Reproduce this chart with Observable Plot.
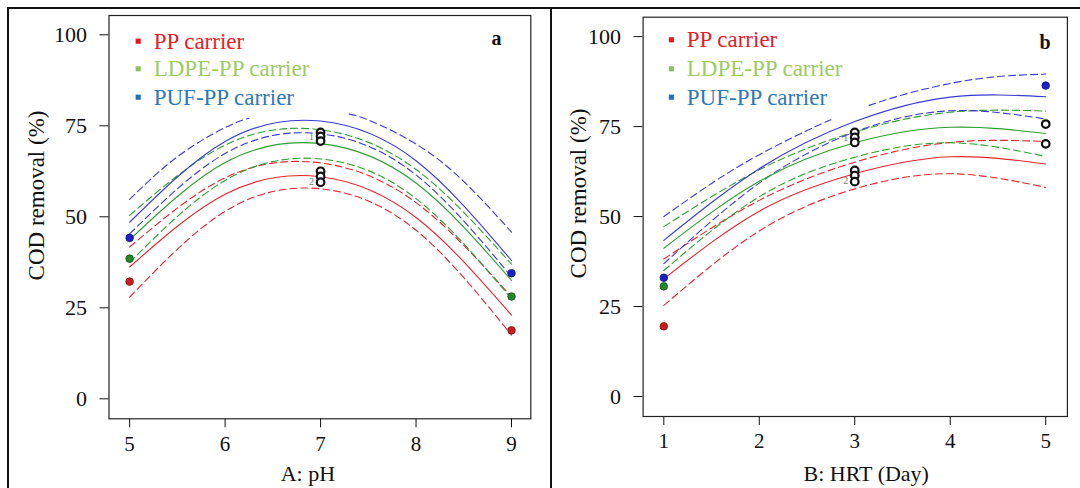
<!DOCTYPE html>
<html>
<head>
<meta charset="utf-8">
<script src="https://cdn.jsdelivr.net/npm/d3@7"></script>
<script src="https://cdn.jsdelivr.net/npm/@observablehq/plot@0.6"></script>
<style>
  html, body { margin: 0; padding: 0; background: #fff; }
  #wrap { position: relative; width: 1080px; height: 488px; overflow: hidden; background: #fff; font-family: "Liberation Serif", "Times New Roman", serif; }
  .panel { position: absolute; top: 0; }
  .rule { position: absolute; background: #111; }
  svg text { font-family: "Liberation Serif", "Times New Roman", serif; }
</style>
</head>
<body>
<div id="wrap">
  <div id="pa" class="panel" style="left:0px"></div>
  <div id="pb" class="panel" style="left:540px"></div>
  <div class="rule" style="left:7px;top:7px;width:1073px;height:2px"></div>
  <div class="rule" style="left:7px;top:7px;width:2px;height:481px"></div>
  <div class="rule" style="left:550px;top:7px;width:2px;height:481px"></div>
</div>
<script>
// ---------- Legend / labels ----------
const seriesNames = ["PP carrier", "LDPE-PP carrier", "PUF-PP carrier"];
const yTicks = [0, 25, 50, 75, 100];
const pHTicks = [5, 6, 7, 8, 9];
const hrtTicks = [1, 2, 3, 4, 5];

// ---------- Panel a: pH ----------
const pH = [5, 6, 7, 8, 9];
const pHPPFit    = [36.2, 56.2, 61.0, 49.8, 23.0];
const pHPPUpper  = [41.7, 60.7, 64.8, 53.9, 28.0];
const pHPPLower  = [27.9, 51.5, 57.7, 46.3, 17.5];
const pHLDPEFit   = [43.7, 64.9, 70.1, 59.3, 32.5];
const pHLDPEUpper = [50.4, 69.7, 73.9, 63.0, 37.0];
const pHLDPELower = [37.5, 60.0, 65.9, 55.0, 27.5];
const pHPUFFit   = [48.5, 70.7, 76.3, 65.4, 38.0];
const pHPUFLower = [45.3, 67.4, 72.8, 61.5, 33.5];
const pHPUFUpperX = [5, 5.5, 6, 6.25, 6.8, 7.3, 7.5, 8, 8.5, 9];
const pHPUFUpper  = [54.8, 66.5, 74.5, 77.1, null, 78.2, 76.6, 70.0, 59.7, 45.8];

const pHPointX = [5, 9];
const pHPPPoints   = [32.2, 18.8];
const pHLDPEPoints = [38.5, 28.1];
const pHPUFPoints  = [44.2, 34.5];
const pHCenterX = [7, 7, 7, 7, 7, 7];
const pHCenterPoints = [73.2, 72.1, 70.8, 62.5, 61.1, 59.5];
const pHCenterTags = [{x: 7, y: 71.9, t: "1"}, {x: 7, y: 59.6, t: "2"}];

// ---------- Panel b: HRT ----------
const hrt = [1, 2, 3, 4, 5];
const hrtPPFit    = [32.7, 51.5, 61.9, 66.6, 64.6];
const hrtPPUpper  = [38.2, 54.5, 65.1, 70.6, 70.9];
const hrtPPLower  = [25.3, 46.0, 57.7, 61.9, 58.1];
const hrtLDPEFit   = [41.2, 59.8, 70.5, 74.8, 73.1];
const hrtLDPEUpper = [47.2, 63.0, 73.5, 79.0, 79.3];
const hrtLDPELower = [35.0, 55.5, 66.5, 70.5, 66.7];
const hrtPUFFit   = [43.4, 63.3, 76.4, 83.2, 83.3];
const hrtPUFLower = [36.9, 59.3, 73.5, 79.4, 77.1];
const hrtPUFUpperX = [1, 1.5, 2, 2.5, 2.75, 2.95, 3.15, 3.5, 4, 4.5, 5];
const hrtPUFUpper  = [50.0, 59.2, 67.2, 73.9, 76.9, null, 80.9, 83.8, 87.0, 88.9, 89.6];

const hrtPPPointX = [1],    hrtPPPoints = [19.5];
const hrtLDPEPointX = [1],  hrtLDPEPoints = [30.6];
const hrtPUFPointX = [1, 5], hrtPUFPoints = [33.0, 86.4];
const hrtOpenX = [3, 3, 3, 3, 3, 3, 5, 5];
const hrtOpenPoints = [73.4, 72.0, 70.6, 62.8, 61.4, 59.7, 75.7, 70.2];
const hrtCenterTags = [{x: 3, y: 72.0, t: "1"}, {x: 3, y: 59.8, t: "2"}];

// ---------- styles ----------
const lineColors = ["#e3262f", "#2f9c2f", "#3b3bd4"];
const pointFill = ["#c81e22", "#22882a", "#1e1ec8"];
const pointStroke = ["#7a1010", "#125212", "#10107a"];
const legendSquare = ["#e8141c", "#8cc060", "#1f72b8"];
const legendText = ["#e4202a", "#9ccb68", "#2f78b4"];
const FONT = '"Liberation Serif", "Times New Roman", serif';

const zip = (xs, ys) => xs.map((x, i) => ({x, y: ys[i]}));

function curveMarks(curves) {
  return curves.map(c => Plot.line(zip(c.x, c.y), {
    x: "x", y: "y", stroke: c.color, strokeWidth: 1.1,
    strokeDasharray: c.dash ? "7,4" : null, curve: "natural"
  }));
}
function filledDots(xs, ys, k) {
  return Plot.dot(zip(xs, ys), {x: "x", y: "y", r: 3.8, fill: pointFill[k], stroke: pointStroke[k], strokeWidth: 0.8});
}
function openDots(xs, ys) {
  return Plot.dot(zip(xs, ys), {x: "x", y: "y", r: 3.8, fill: "white", stroke: "#111", strokeWidth: 2.2});
}
function legendMarks(sqDx, txDx, dys) {
  const out = [];
  seriesNames.forEach((name, k) => {
    out.push(Plot.dot([name], {frameAnchor: "top-left", dx: sqDx, dy: dys[k], symbol: "square", r: 2.9, fill: legendSquare[k]}));
    out.push(Plot.text([name], {frameAnchor: "top-left", dx: txDx, dy: dys[k], text: d => d, fill: legendText[k],
      textAnchor: "start", lineAnchor: "middle", fontSize: 23, fontFamily: FONT}));
  });
  return out;
}
function axesMarks(xticks) {
  return [
    Plot.axisX({ticks: xticks, tickFormat: d3.format("d"), tickSize: 9, tickPadding: 8, fontSize: 21, label: null, fontFamily: FONT}),
    Plot.axisY({ticks: yTicks, tickFormat: d3.format("d"), tickSize: 9, tickPadding: 13, fontSize: 22, label: null, fontFamily: FONT}),
    Plot.frame({stroke: "#222", strokeWidth: 1.2})
  ];
}
function tagMarks(tags) {
  return Plot.text(tags, {x: "x", y: "y", text: "t", dx: -9, fontSize: 10, fill: "#777", fontFamily: FONT});
}

// ---------- Panel a ----------
const plotA = Plot.plot({
  width: 540, height: 488,
  marginLeft: 108.5, marginRight: 9.7, marginTop: 15, marginBottom: 69.7,
  x: {domain: [4.784, 9.202]},
  y: {domain: [-5.49, 105.3]},
  style: {fontFamily: FONT, background: "transparent", color: "#111", overflow: "visible"},
  marks: [
    ...axesMarks(pHTicks),
    ...curveMarks([
      {x: pH, y: pHPPUpper, color: lineColors[0], dash: true},
      {x: pH, y: pHPPLower, color: lineColors[0], dash: true},
      {x: pH, y: pHLDPEUpper, color: lineColors[1], dash: true},
      {x: pH, y: pHLDPELower, color: lineColors[1], dash: true},
      {x: pHPUFUpperX, y: pHPUFUpper, color: lineColors[2], dash: true},
      {x: pH, y: pHPUFLower, color: lineColors[2], dash: true},
      {x: pH, y: pHPPFit, color: lineColors[0], dash: false},
      {x: pH, y: pHLDPEFit, color: lineColors[1], dash: false},
      {x: pH, y: pHPUFFit, color: lineColors[2], dash: false}
    ]),
    filledDots(pHPointX, pHPPPoints, 0),
    filledDots(pHPointX, pHLDPEPoints, 1),
    filledDots(pHPointX, pHPUFPoints, 2),
    tagMarks(pHCenterTags),
    openDots(pHCenterX, pHCenterPoints),
    ...legendMarks(29.2, 44.7, [25.7, 53.3, 81.7]),
    Plot.text(["a"], {frameAnchor: "top-right", dx: -34.4, dy: 23.3, text: d => d, fontWeight: "bold", fontSize: 20, fontFamily: FONT, textAnchor: "middle", lineAnchor: "middle"}),
    Plot.text(["A: pH"], {frameAnchor: "bottom", dx: -12, dy: 62, text: d => d, fontSize: 22, fontFamily: FONT, textAnchor: "middle", lineAnchor: "bottom"}),
    Plot.text(["COD removal (%)"], {frameAnchor: "left", dx: -72.5, dy: -21.7, rotate: -90, text: d => d, fontSize: 23, fontFamily: FONT, textAnchor: "middle", lineAnchor: "middle"})
  ]
});
document.getElementById("pa").appendChild(plotA);

// ---------- Panel b ----------
const plotB = Plot.plot({
  width: 540, height: 488,
  marginLeft: 102.6, marginRight: 13.1, marginTop: 16.7, marginBottom: 72,
  x: {domain: [0.783, 5.227]},
  y: {domain: [-5.56, 105.4]},
  style: {fontFamily: FONT, background: "transparent", color: "#111", overflow: "visible"},
  marks: [
    ...axesMarks(hrtTicks),
    ...curveMarks([
      {x: hrt, y: hrtPPUpper, color: lineColors[0], dash: true},
      {x: hrt, y: hrtPPLower, color: lineColors[0], dash: true},
      {x: hrt, y: hrtLDPEUpper, color: lineColors[1], dash: true},
      {x: hrt, y: hrtLDPELower, color: lineColors[1], dash: true},
      {x: hrtPUFUpperX, y: hrtPUFUpper, color: lineColors[2], dash: true},
      {x: hrt, y: hrtPUFLower, color: lineColors[2], dash: true},
      {x: hrt, y: hrtPPFit, color: lineColors[0], dash: false},
      {x: hrt, y: hrtLDPEFit, color: lineColors[1], dash: false},
      {x: hrt, y: hrtPUFFit, color: lineColors[2], dash: false}
    ]),
    filledDots(hrtPPPointX, hrtPPPoints, 0),
    filledDots(hrtLDPEPointX, hrtLDPEPoints, 1),
    filledDots(hrtPUFPointX, hrtPUFPoints, 2),
    tagMarks(hrtCenterTags),
    openDots(hrtOpenX, hrtOpenPoints),
    ...legendMarks(28.3, 43.7, [22.6, 51.6, 80]),
    Plot.text(["b"], {frameAnchor: "top-right", dx: -22.4, dy: 25, text: d => d, fontWeight: "bold", fontSize: 20, fontFamily: FONT, textAnchor: "middle", lineAnchor: "middle"}),
    Plot.text(["B: HRT (Day)"], {frameAnchor: "bottom", dx: 11, dy: 64, text: d => d, fontSize: 22, fontFamily: FONT, textAnchor: "middle", lineAnchor: "bottom"}),
    Plot.text(["COD removal (%)"], {frameAnchor: "left", dx: -64.6, dy: -23.4, rotate: -90, text: d => d, fontSize: 23, fontFamily: FONT, textAnchor: "middle", lineAnchor: "middle"})
  ]
});
document.getElementById("pb").appendChild(plotB);
</script>
</body>
</html>
